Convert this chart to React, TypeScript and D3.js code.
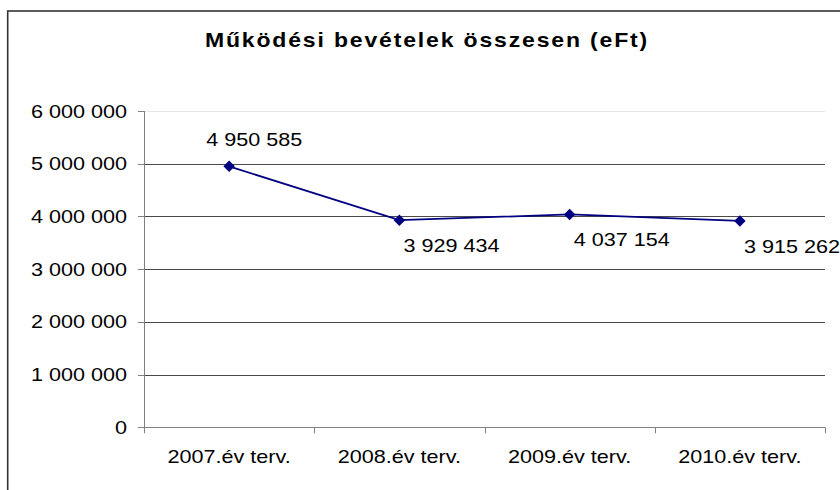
import React from "react";
import * as d3 from "d3";

const title = "Működési bevételek összesen (eFt)";
const categories = ["2007.év terv.", "2008.év terv.", "2009.év terv.", "2010.év terv."];
const values = [4950585, 3929434, 4037154, 3915262];
const yTicks = [0, 1000000, 2000000, 3000000, 4000000, 5000000, 6000000];
const labelPlacement = ["above", "below", "below", "below"];

const fmt = (v: number) => d3.format(",")(v).replace(/,/g, " ");

const SX = 1.2;

function T(props: {
  x: number;
  y: number;
  anchor?: "start" | "middle" | "end";
  size?: number;
  bold?: boolean;
  sx?: number;
  ls?: number;
  children: React.ReactNode;
}) {
  const { x, y, anchor = "start", size = 18, bold = false, sx = SX, ls = 0, children } = props;
  return (
    <text
      transform={`translate(${x},${y}) scale(${sx},1)`}
      textAnchor={anchor}
      fontSize={size}
      fontWeight={bold ? "bold" : "normal"}
      letterSpacing={ls}
      fill="#000"
    >
      {children}
    </text>
  );
}

export default function App() {
  const W = 840;
  const H = 490;
  const left = 144;
  const right = 825;
  const top = 111;
  const bottom = 427.3;

  const x = d3.scaleBand<string>().domain(categories).range([left, right]).padding(0);
  const y = d3.scaleLinear().domain([0, 6000000]).range([bottom, top]);

  const cx = (c: string) => (x(c) as number) + x.bandwidth() / 2;

  const line = d3
    .line<number>()
    .x((_, i) => cx(categories[i]))
    .y((d) => y(d));

  const font = "'Liberation Sans', Arial, sans-serif";
  const diamond = d3.symbol().type(d3.symbolDiamond2).size(85)();

  return (
    <svg
      width={W}
      height={H}
      style={{ position: "absolute", left: 0, top: 0, background: "#fff" }}
      fontFamily={font}
    >
      <rect x={0} y={0} width={W} height={H} fill="#fff" />
      <rect x={7.7} y={11} width={W + 20} height={H + 20} fill="none" stroke="#333" strokeWidth={1.6} />

      <T x={427} y={47} anchor="middle" size={20} bold sx={1.15} ls={1.6}>
        {title}
      </T>

      {yTicks.map((t) => (
        <g key={t}>
          {t > 0 && (
            <line
              x1={left}
              x2={right}
              y1={Math.round(y(t)) + 0.5}
              y2={Math.round(y(t)) + 0.5}
              stroke={t === 6000000 ? "#e6e6e6" : "#4a4a4a"}
              strokeWidth={1}
            />
          )}
          <line x1={left - 6} x2={left} y1={Math.round(y(t)) + 0.5} y2={Math.round(y(t)) + 0.5} stroke="#808080" />
          <T x={127} y={y(t) + 6.5} anchor="end">
            {fmt(t)}
          </T>
        </g>
      ))}

      <line x1={left + 0.5} x2={left + 0.5} y1={top} y2={bottom} stroke="#808080" />
      <line x1={left} x2={right} y1={Math.round(bottom) + 0.5} y2={Math.round(bottom) + 0.5} stroke="#808080" />
      {[...categories.map((c) => x(c) as number), right].map((t, i) => (
        <line key={i} x1={Math.round(t) + 0.5} x2={Math.round(t) + 0.5} y1={bottom} y2={bottom + 6} stroke="#808080" />
      ))}
      {categories.map((c) => (
        <T key={c} x={cx(c)} y={463} anchor="middle">
          {c}
        </T>
      ))}

      <path d={line(values) || ""} fill="none" stroke="#000080" strokeWidth={1.8} />
      {values.map((v, i) => (
        <path key={i} d={diamond || ""} transform={`translate(${cx(categories[i])},${y(v)})`} fill="#000080" />
      ))}

      {values.map((v, i) => {
        const px = cx(categories[i]);
        const py = y(v);
        const above = labelPlacement[i] === "above";
        return (
          <T key={i} x={above ? px - 23 : px + 4} y={above ? py - 20 : py + 32}>
            {fmt(v)}
          </T>
        );
      })}
    </svg>
  );
}
